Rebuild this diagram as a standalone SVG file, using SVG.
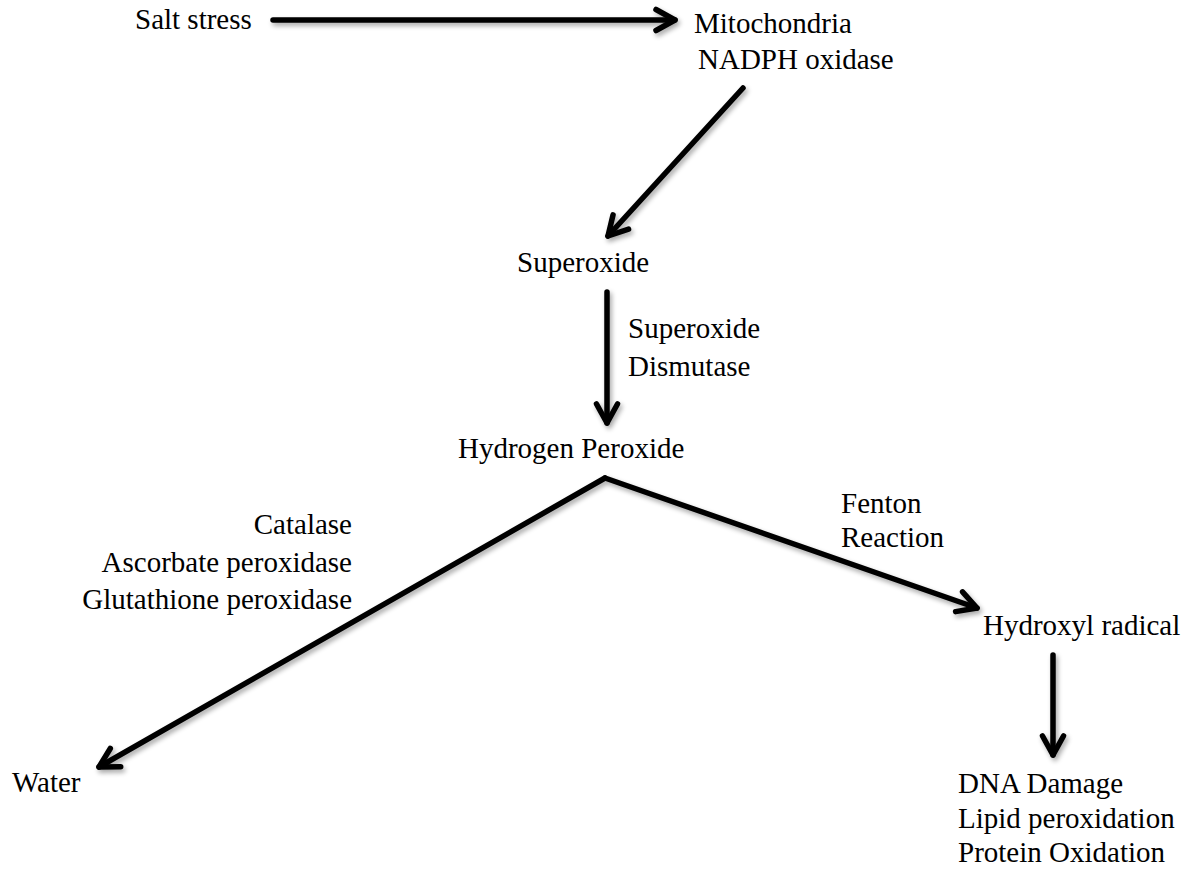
<svg xmlns="http://www.w3.org/2000/svg" width="1192" height="869" viewBox="0 0 1192 869">
<style>
text{font-family:"Liberation Serif","Times New Roman",serif;font-size:29px;fill:#000}
.c{stroke:#000;stroke-width:5.5;fill:none;stroke-linecap:round}
</style>
<defs>
<filter id="sh" x="-20%" y="-20%" width="140%" height="140%">
<feGaussianBlur in="SourceAlpha" stdDeviation="2.5"/>
<feOffset dx="2" dy="3" result="b"/>
<feComponentTransfer><feFuncA type="linear" slope="0.35"/></feComponentTransfer>
<feMerge><feMergeNode/><feMergeNode in="SourceGraphic"/></feMerge>
</filter>
<marker id="ah" markerUnits="userSpaceOnUse" markerWidth="40" markerHeight="40" refX="0" refY="0" viewBox="-30 -20 40 40" orient="auto" overflow="visible">
<path d="M-19,-10.5 L0,0 L-19,10.5" fill="none" stroke="#000" stroke-width="5.5" stroke-linecap="round" stroke-linejoin="round"/>
</marker>
</defs>
<rect width="1192" height="869" fill="#fff"/>
<g id="connectors" filter="url(#sh)">
<line class="c" x1="273" y1="20" x2="675" y2="20" marker-end="url(#ah)"/>
<line class="c" x1="743" y1="88" x2="608" y2="236" marker-end="url(#ah)"/>
<line class="c" x1="607" y1="292" x2="607" y2="423" marker-end="url(#ah)"/>
<line class="c" x1="605" y1="478" x2="99" y2="767" marker-end="url(#ah)"/>
<line class="c" x1="605" y1="478" x2="977" y2="608" marker-end="url(#ah)"/>
<line class="c" x1="1053" y1="655" x2="1053" y2="755" marker-end="url(#ah)"/>
</g>
<g id="salt"><text x="135" y="29">Salt stress</text></g>
<g id="mito"><text x="694" y="33">Mitochondria</text><text x="698" y="69">NADPH oxidase</text></g>
<g id="superoxide"><text x="517" y="272">Superoxide</text></g>
<g id="sod"><text x="628" y="338">Superoxide</text><text x="628" y="376">Dismutase</text></g>
<g id="h2o2"><text x="458" y="458">Hydrogen Peroxide</text></g>
<g id="enzymes"><text x="352" y="534" text-anchor="end">Catalase</text><text x="352" y="572" text-anchor="end">Ascorbate peroxidase</text><text x="352" y="609" text-anchor="end">Glutathione peroxidase</text></g>
<g id="fenton"><text x="841" y="513">Fenton</text><text x="841" y="547">Reaction</text></g>
<g id="hydroxyl"><text x="983" y="635">Hydroxyl radical</text></g>
<g id="water"><text x="12" y="792">Water</text></g>
<g id="damage"><text x="958" y="793">DNA Damage</text><text x="958" y="828">Lipid peroxidation</text><text x="958" y="862">Protein Oxidation</text></g>
</svg>
